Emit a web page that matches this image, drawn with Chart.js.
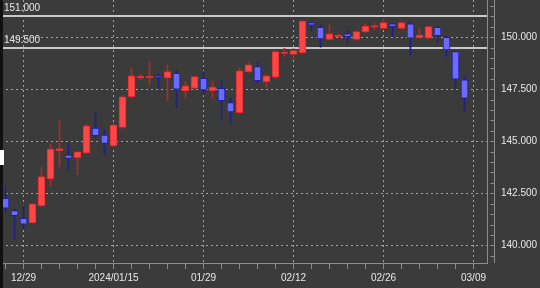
<!DOCTYPE html>
<html>
<head>
<meta charset="utf-8">
<script src="https://cdn.jsdelivr.net/npm/chart.js@4.4.1/dist/chart.umd.min.js"></script>
<style>
  html, body { margin: 0; padding: 0; background: #3b3b3b; }
  #wrap { position: relative; width: 540px; height: 288px; }
  #chart { display: block; }
  #edge { position: absolute; left: 0; top: 0; width: 3px; height: 288px; background: #111; }
  #mark { position: absolute; left: 0; top: 150px; width: 4px; height: 15px; background: #fff; }
</style>
</head>
<body>
<div id="wrap">
  <canvas id="chart" width="540" height="288"></canvas>
  <div id="edge"></div>
  <div id="mark"></div>
</div>
<script>
// daily candles, 2023/12/27 - 2024/03/08 (last two slots are empty space)
const dates = [
  "2023/12/27", "2023/12/28", "2023/12/29", "2024/01/02", "2024/01/03", "2024/01/04",
  "2024/01/05", "2024/01/08", "2024/01/09", "2024/01/10", "2024/01/11", "2024/01/12",
  "2024/01/15", "2024/01/16", "2024/01/17", "2024/01/18", "2024/01/19", "2024/01/22",
  "2024/01/23", "2024/01/24", "2024/01/25", "2024/01/26", "2024/01/29", "2024/01/30",
  "2024/01/31", "2024/02/01", "2024/02/02", "2024/02/05", "2024/02/06", "2024/02/07",
  "2024/02/08", "2024/02/09", "2024/02/12", "2024/02/13", "2024/02/14", "2024/02/15",
  "2024/02/16", "2024/02/19", "2024/02/20", "2024/02/21", "2024/02/22", "2024/02/23",
  "2024/02/26", "2024/02/27", "2024/02/28", "2024/02/29", "2024/03/01", "2024/03/04",
  "2024/03/05", "2024/03/06", "2024/03/07", "2024/03/08", "2024/03/09", "2024/03/11"
];

const open = [
  142.26, 141.67, 141.30, 141.09, 141.90, 143.19, 144.55, 144.34, 144.21, 144.44,
  145.63, 145.30, 144.79, 145.67, 147.14, 148.05, 148.06, 148.15, 148.04, 148.27,
  147.42, 147.55, 148.03, 147.43, 147.55, 146.86, 146.38, 148.35, 148.59, 147.87,
  148.08, 149.22, 149.17, 149.26, 150.70, 150.48, 149.90, 150.02, 150.16, 149.90,
  150.27, 150.50, 150.43, 150.64, 150.43, 150.64, 149.98, 149.95, 150.48, 150.00,
  149.31, 147.95
];
const high = [
  142.85, 141.72, 141.90, 142.00, 143.75, 144.87, 145.99, 144.90, 144.50, 145.80,
  146.39, 145.54, 145.88, 147.20, 148.51, 148.20, 148.81, 148.22, 148.67, 148.39,
  147.87, 148.15, 148.35, 147.87, 147.91, 147.07, 148.51, 148.78, 148.78, 148.20,
  149.35, 149.47, 149.45, 150.82, 150.72, 150.59, 150.59, 150.14, 150.32, 150.30,
  150.67, 150.70, 150.87, 150.66, 150.74, 150.66, 150.43, 150.55, 150.50, 150.05,
  149.35, 148.08
];
const low = [
  141.55, 140.27, 140.80, 141.05, 141.85, 142.85, 143.78, 143.62, 143.41, 144.40,
  145.14, 144.34, 144.73, 145.60, 147.10, 147.95, 147.71, 147.58, 146.94, 146.63,
  147.07, 147.50, 147.23, 147.07, 146.02, 145.87, 146.35, 148.30, 147.82, 147.60,
  148.00, 149.07, 148.96, 149.20, 150.32, 149.52, 149.88, 149.95, 149.71, 149.85,
  150.20, 150.38, 150.40, 150.03, 150.40, 149.15, 149.96, 149.92, 149.74, 149.07,
  147.55, 146.42
];
const close = [
  141.78, 141.43, 141.02, 141.99, 143.30, 144.62, 144.65, 144.18, 144.49, 145.74,
  145.27, 144.90, 145.78, 147.14, 148.15, 148.12, 148.12, 148.10, 148.35, 147.50,
  147.66, 148.11, 147.47, 147.60, 146.95, 146.41, 148.39, 148.67, 147.91, 148.14,
  149.31, 149.28, 149.36, 150.78, 150.58, 149.92, 150.16, 150.10, 150.03, 150.27,
  150.54, 150.56, 150.70, 150.51, 150.70, 149.95, 150.10, 150.51, 150.08, 149.39,
  147.98, 147.07
];

// horizontal price lines
const levels = [151.0, 149.5];

const yMin = 139.15, yMax = 151.79;

const gridCol = "#a2a2a2";
const axisCol = "#8c8c8c";
const textCol = "#e8e8e8";
const fontFamily = "'Liberation Sans', Arial, sans-serif";

Chart.defaults.font.family = fontFamily;
Chart.defaults.font.size = 10;

const up = close.map((c, i) => c >= open[i]);
const bodies = open.map((o, i) => [Math.min(o, close[i]), Math.max(o, close[i])]);
const wicks = low.map((l, i) => [l, high[i]]);

const isMajor = v => Math.abs(v / 2.5 - Math.round(v / 2.5)) < 1e-6;

const decor = {
  id: "decor",
  beforeDatasetsDraw(chart) {
    const { ctx, chartArea, scales: { y } } = chart;
    ctx.save();
    ctx.font = "10px " + fontFamily;
    levels.forEach(v => {
      const py = Math.round(y.getPixelForValue(v));
      ctx.strokeStyle = "#c8c8c8";
      ctx.lineWidth = 2;
      ctx.beginPath();
      ctx.moveTo(chartArea.left - 1, py);
      ctx.lineTo(chartArea.right, py);
      ctx.stroke();
      ctx.fillStyle = textCol;
      ctx.textBaseline = "alphabetic";
      ctx.fillText(v.toFixed(3), 4, py - 5);
    });
    ctx.restore();
  },
  afterDraw(chart) {
    const { ctx, chartArea, scales: { y } } = chart;
    const ax = chartArea.right + 7.5;
    ctx.save();
    ctx.strokeStyle = axisCol;
    ctx.lineWidth = 1;
    ctx.beginPath();
    ctx.moveTo(ax, chartArea.top);
    ctx.lineTo(ax, chartArea.bottom);
    y.ticks.forEach(t => {
      const py = Math.round(y.getPixelForValue(t.value)) + 0.5;
      ctx.moveTo(ax - 4, py);
      ctx.lineTo(ax, py);
    });
    ctx.stroke();
    ctx.restore();
  }
};

new Chart(document.getElementById("chart"), {
  type: "bar",
  data: {
    labels: dates,
    datasets: [
      {
        label: "body",
        data: bodies,
        order: 0,
        grouped: false,
        barThickness: 7,
        borderWidth: 1,
        borderSkipped: false,
        backgroundColor: up.map(u => u ? "#ff4646" : "#6a6aff"),
        borderColor: up.map(u => u ? "#e02c2c" : "#20209a")
      },
      {
        label: "wick",
        data: wicks,
        order: 1,
        grouped: false,
        barThickness: 1,
        borderWidth: 0,
        backgroundColor: up.map(u => u ? "#b02a2a" : "#20207e")
      }
    ]
  },
  options: {
    responsive: false,
    animation: false,
    layout: { padding: { left: 1, top: 0, right: 0, bottom: 0 } },
    plugins: { legend: { display: false }, tooltip: { enabled: false } },
    scales: {
      x: {
        offset: true,
        grid: {
          offset: false,
          color: c => (c.index % 10 === 2 ? gridCol : "transparent"),
          tickColor: c => (c.index % 2 === 0 ? axisCol : "transparent"),
          tickLength: 6
        },
        border: { color: axisCol, dash: [2, 3] },
        ticks: {
          autoSkip: false,
          maxRotation: 0,
          padding: 3,
          color: textCol,
          callback: (v, i) => {
            if (i % 10 !== 2) return "";
            const d = dates[i], prev = dates[i - 10];
            return prev && prev.slice(0, 4) !== d.slice(0, 4) ? d : d.slice(5);
          }
        },
        afterFit: s => { s.height = 25; }
      },
      y: {
        position: "right",
        min: yMin,
        max: yMax,
        grid: {
          color: c => (c.tick && isMajor(c.tick.value) ? gridCol : "transparent"),
          tickColor: "transparent",
          tickLength: 14
        },
        border: { color: axisCol, dash: [2, 3] },
        ticks: {
          stepSize: 0.5,
          autoSkip: false,
          includeBounds: false,
          padding: 0,
          color: textCol,
          callback: v => (isMajor(v) ? v.toFixed(3) : "")
        },
        afterFit: s => { s.width = 53; s.paddingTop = 0; s.paddingBottom = 0; }
      }
    }
  },
  plugins: [decor]
});
</script>
</body>
</html>
